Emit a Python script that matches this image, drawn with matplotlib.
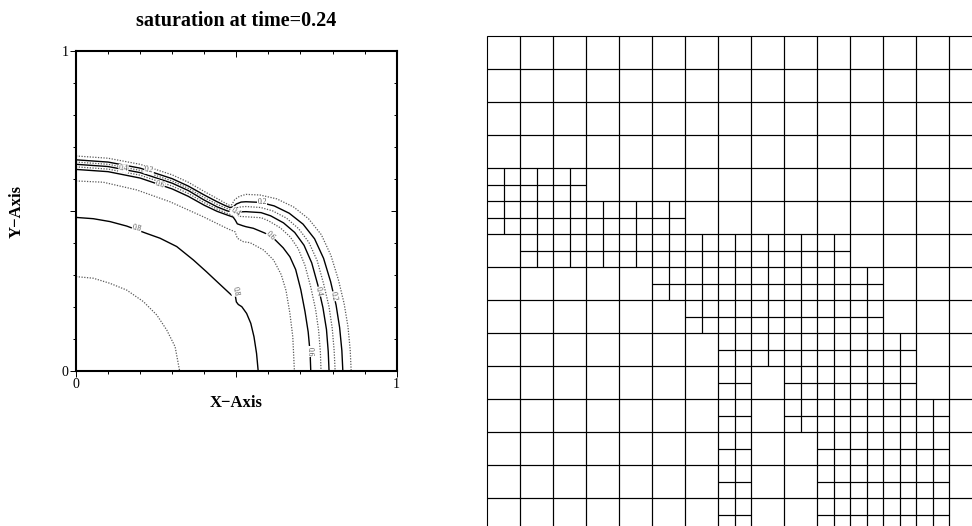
import numpy as np
import matplotlib.pyplot as plt
from matplotlib.patches import Rectangle

plt.rcParams['font.family'] = ['Liberation Serif', 'DejaVu Serif']

# -----------------------------------------------------------------------------
# Saturation contours (x, y in [0, 1])
# -----------------------------------------------------------------------------
s01_x = [0, 0.1, 0.2, 0.3, 0.35, 0.4, 0.44, 0.465, 0.478, 0.486, 0.495, 0.51,
         0.53, 0.574, 0.626, 0.678, 0.725, 0.765, 0.795, 0.818, 0.836, 0.848, 0.855, 0.858]
s01_y = [0.671, 0.664, 0.645, 0.612, 0.589, 0.560, 0.538, 0.524, 0.517, 0.519, 0.535, 0.545,
         0.551, 0.549, 0.537, 0.512, 0.475, 0.425, 0.36, 0.285, 0.21, 0.138, 0.065, 0.0]

s02_x = [0, 0.1, 0.2, 0.3, 0.35, 0.4, 0.44, 0.465, 0.48, 0.49, 0.5, 0.515,
         0.530, 0.575, 0.618, 0.665, 0.708, 0.744, 0.772, 0.794, 0.811, 0.822, 0.829, 0.832]
s02_y = [0.659, 0.652, 0.633, 0.600, 0.577, 0.549, 0.528, 0.516, 0.510, 0.512, 0.521, 0.527,
         0.528, 0.526, 0.515, 0.492, 0.458, 0.412, 0.351, 0.278, 0.205, 0.135, 0.063, 0.0]

s03_x = [0, 0.1, 0.2, 0.3, 0.35, 0.4, 0.44, 0.47, 0.485, 0.5, 0.515,
         0.530, 0.576, 0.613, 0.656, 0.694, 0.726, 0.752, 0.772, 0.789, 0.799, 0.805, 0.808]
s03_y = [0.652, 0.645, 0.626, 0.593, 0.570, 0.541, 0.520, 0.507, 0.503, 0.509, 0.512,
         0.513, 0.510, 0.4995, 0.477, 0.444, 0.4015, 0.344, 0.272, 0.200, 0.132, 0.062, 0.0]

s04_x = [0, 0.1, 0.2, 0.3, 0.35, 0.4, 0.44, 0.47, 0.488, 0.5,
         0.530, 0.577, 0.607, 0.647, 0.682, 0.711, 0.735, 0.754, 0.770, 0.781, 0.7865, 0.789]
s04_y = [0.645, 0.638, 0.619, 0.586, 0.563, 0.533, 0.512, 0.500, 0.495, 0.496,
         0.497, 0.494, 0.484, 0.462, 0.432, 0.392, 0.337, 0.268, 0.197, 0.129, 0.060, 0.0]

s05_x = [0, 0.1, 0.2, 0.3, 0.35, 0.4, 0.44, 0.47, 0.49, 0.5,
         0.530, 0.578, 0.601, 0.637, 0.668, 0.693, 0.714, 0.732, 0.747, 0.7565, 0.762, 0.764]
s05_y = [0.637, 0.630, 0.611, 0.577, 0.554, 0.525, 0.505, 0.492, 0.486, 0.483,
         0.481, 0.478, 0.468, 0.4465, 0.418, 0.381, 0.329, 0.2615, 0.192, 0.126, 0.0585, 0.0]

s06_x = [0, 0.1, 0.2, 0.3, 0.35, 0.4, 0.44, 0.47, 0.49, 0.497, 0.503, 0.52,
         0.53, 0.553, 0.589, 0.621, 0.646, 0.667, 0.685, 0.701, 0.714, 0.724, 0.730, 0.732]
s06_y = [0.629, 0.622, 0.602, 0.568, 0.545, 0.517, 0.498, 0.487, 0.480, 0.470, 0.459, 0.453,
         0.450, 0.445, 0.430, 0.409, 0.384, 0.356, 0.316, 0.253, 0.185, 0.121, 0.056, 0.0]

s07_x = [0, 0.085, 0.189, 0.293, 0.397, 0.470, 0.496, 0.503, 0.522, 0.543,
         0.585, 0.616, 0.640, 0.655, 0.667, 0.676, 0.681]
s07_y = [0.593, 0.589, 0.565, 0.528, 0.481, 0.445, 0.434, 0.414, 0.403, 0.400,
         0.377, 0.346, 0.300, 0.25, 0.179, 0.106, 0.0]

s08_x = [0, 0.054, 0.106, 0.158, 0.220, 0.262, 0.314, 0.366, 0.407, 0.440, 0.470,
         0.485, 0.497, 0.500, 0.506, 0.517, 0.532, 0.545, 0.555, 0.563, 0.568]
s08_y = [0.479, 0.475, 0.466, 0.452, 0.429, 0.414, 0.388, 0.346, 0.309, 0.278, 0.25,
         0.236, 0.233, 0.215, 0.207, 0.200, 0.179, 0.148, 0.106, 0.054, 0.0]

s09_x = [0, 0.054, 0.106, 0.158, 0.210, 0.252, 0.283, 0.309, 0.323]
s09_y = [0.294, 0.289, 0.273, 0.252, 0.216, 0.174, 0.127, 0.075, 0.0]

# labelled contour values and where their labels sit
label_text = ['0.4', '0.2', '0.6', '0.8', '0.2', '0.4', '0.6', '0.8', '0.6', '0.4', '0.2']
label_x = [0.148, 0.228, 0.262, 0.19, 0.58, 0.497, 0.607, 0.497, 0.730, 0.757, 0.802]
label_y = [0.632, 0.627, 0.582, 0.445, 0.527, 0.496, 0.420, 0.247, 0.060, 0.247, 0.232]
label_rot = [-4, -10, -18, -15, 0, -35, -45, -80, -90, -80, -78]

# -----------------------------------------------------------------------------
# Adaptive mesh: 16 x 16 coarse cells, rows counted from the top
# -----------------------------------------------------------------------------
n_coarse = 16
refined_rows = [4, 5, 6, 7, 8, 9, 10, 11, 12, 13, 14]
refined_cols = [
    [0, 1, 2],
    [0, 1, 2, 3, 4, 5],
    [1, 2, 3, 4, 5, 6, 7, 8, 9, 10],
    [5, 6, 7, 8, 9, 10, 11],
    [6, 7, 8, 9, 10, 11],
    [7, 8, 9, 10, 11, 12],
    [7, 9, 10, 11, 12],
    [7, 9, 10, 11, 12, 13],
    [7, 10, 11, 12, 13],
    [7, 10, 11, 12, 13],
    [7, 10, 11, 12, 13],
]

fig = plt.figure(figsize=(9.72, 5.26), dpi=100)

# Contour plot
# -----------------------------------------------------------------------------
ax = fig.add_axes([76/972, (526-370.7)/526, 320.7/972, 320/526])
contours = [(s01_x, s01_y), (s02_x, s02_y), (s03_x, s03_y), (s04_x, s04_y),
            (s05_x, s05_y), (s06_x, s06_y), (s07_x, s07_y), (s08_x, s08_y),
            (s09_x, s09_y)]
for k, (cx, cy) in enumerate(contours):
    if k % 2 == 1:
        ax.plot(cx, cy, color='k', linewidth=1.0, zorder=2)
    else:
        ax.plot(cx, cy, color='0.35', linewidth=0.9, linestyle=(0, (1, 1.2)), zorder=2)

for t, lx, ly, r in zip(label_text, label_x, label_y, label_rot):
    ax.text(lx, ly, t, rotation=r, fontsize=5.5, color='0.3', ha='center', va='center',
            rotation_mode='anchor', zorder=3,
            bbox=dict(facecolor='white', edgecolor='none', pad=0.2))

ax.set_xlim(0, 1)
ax.set_ylim(0, 1)
for sp in ax.spines.values():
    sp.set_linewidth(1.5)

major = [0, 0.5, 1]
minor = [0.1, 0.2, 0.3, 0.4, 0.6, 0.7, 0.8, 0.9]
ax.set_xticks(major, ['0', '', '1'])
ax.set_yticks(major, ['0', '', '1'])
ax.set_xticks(minor, minor=True)
ax.set_yticks(minor, minor=True)
ax.tick_params(which='both', direction='out', width=0.7, labelsize=10)
ax.tick_params(which='major', length=4, pad=1.5)
ax.tick_params(which='minor', length=2.5)

secx = ax.secondary_xaxis('top')
secy = ax.secondary_yaxis('right')
for sec, axis in ((secx, 'x'), (secy, 'y')):
    for sp in sec.spines.values():
        sp.set_visible(False)
    if axis == 'x':
        sec.set_xticks(major)
        sec.set_xticks(minor, minor=True)
    else:
        sec.set_yticks(major)
        sec.set_yticks(minor, minor=True)
    sec.tick_params(which='both', direction='in', width=0.7,
                    labeltop=False, labelright=False, labelbottom=False, labelleft=False)
    sec.tick_params(which='major', length=4)
    sec.tick_params(which='minor', length=2.5)

fig.text(236/972, 1 - 21/526, 'saturation at time=0.24', ha='center', va='center',
         fontsize=14.5, fontweight='bold')
fig.text(236/972, 1 - 403/526, 'X\u2212Axis', ha='center', va='center',
         fontsize=12, fontweight='bold')
fig.text(17/972, 1 - 211/526, 'Y\u2212Axis', ha='center', va='center',
         fontsize=12, fontweight='bold', rotation=90)

# Mesh
# -----------------------------------------------------------------------------
ax2 = fig.add_axes([487/972, (526-564)/526, 528/972, 528/526])
ax2.set_xlim(0, n_coarse)
ax2.set_ylim(n_coarse, 0)
ax2.axis('off')

refined = {r: c for r, c in zip(refined_rows, refined_cols)}
for row in range(n_coarse):
    for col in range(n_coarse):
        if col in refined.get(row, []):
            for dy in (0, 0.5):
                for dx in (0, 0.5):
                    ax2.add_patch(Rectangle((col + dx, row + dy), 0.5, 0.5, fill=False,
                                            edgecolor='k', linewidth=0.8, clip_on=False))
        else:
            ax2.add_patch(Rectangle((col, row), 1, 1, fill=False,
                                    edgecolor='k', linewidth=0.8, clip_on=False))

plt.savefig('out.png', dpi=100)
